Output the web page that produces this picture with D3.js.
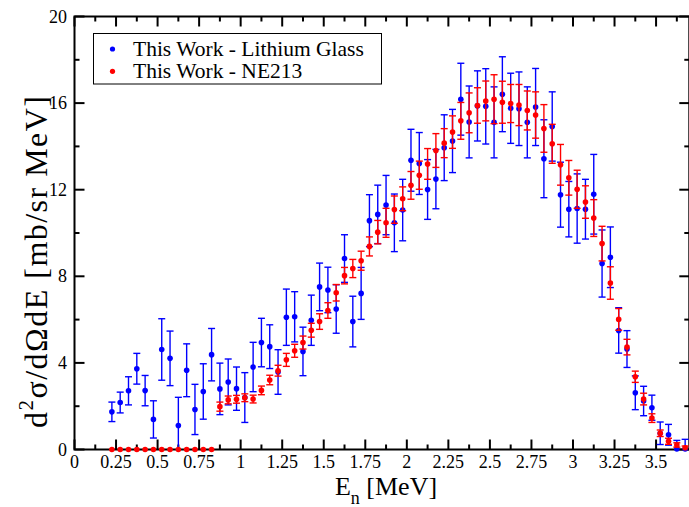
<!DOCTYPE html>
<html>
<head>
<meta charset="utf-8">
<script src="https://cdn.jsdelivr.net/npm/d3@7"></script>
<style>
  html, body { margin: 0; padding: 0; background: #fff; }
  svg { display: block; }
</style>
</head>
<body>
<svg id="chart" width="689" height="507" font-family="Liberation Serif"></svg>
<script>
// ---- data ----
const energies = [0.225,0.275,0.325,0.375,0.425,0.475,0.525,0.575,0.625,0.675,0.725,0.775,0.825,0.875,0.925,0.975,
  1.025,1.075,1.125,1.175,1.225,1.275,1.325,1.375,1.425,1.475,1.525,1.575,1.625,1.675,1.725,1.775,1.825,1.875,1.925,1.975,
  2.025,2.075,2.125,2.175,2.225,2.275,2.325,2.375,2.425,2.475,2.525,2.575,2.625,2.675,2.725,2.775,2.825,2.875,2.925,2.975,
  3.025,3.075,3.125,3.175,3.225,3.275,3.325,3.375,3.425,3.475,3.525,3.575,3.625,3.675];

const lithiumGlass = [1.74,2.17,2.71,3.73,2.72,1.39,4.62,4.21,1.11,3.66,1.85,2.68,4.38,2.80,3.12,2.81,
  2.40,3.81,4.94,4.75,3.58,6.11,6.13,4.53,5.97,7.51,7.37,6.49,8.82,5.91,7.21,10.57,10.86,11.29,10.47,11.06,
  13.36,13.21,12.01,12.49,13.94,14.25,16.18,15.13,15.87,15.85,15.11,16.41,15.76,15.74,15.11,15.82,13.43,14.92,11.77,11.10,
  11.13,11.10,11.79,8.59,8.88,5.50,4.64,2.62,2.24,1.93,0.75,0.68,0.02,0.02];
const lithiumGlassErr = [0.45,0.48,0.65,0.71,0.70,0.86,1.42,1.26,1.30,1.22,1.16,1.28,1.21,1.19,1.06,1.00,
  1.15,1.14,1.12,1.01,1.03,1.30,1.16,1.12,1.16,1.10,1.05,1.12,1.10,1.17,1.20,1.20,1.35,1.37,1.33,1.42,
  1.43,1.43,1.38,1.37,1.52,1.46,1.66,1.66,1.62,1.74,1.64,1.73,1.62,1.70,1.64,1.78,1.80,1.60,1.50,1.28,
  1.60,1.38,1.84,1.55,1.40,1.05,0.85,0.78,0.68,0.58,0.52,0.48,0.40,0.45];

const ne213 = [0,0,0,0,0,0,0,0,0,0,0,0,0,1.98,2.29,2.32,
  2.39,2.33,2.73,3.21,3.64,4.14,4.56,4.94,5.51,5.91,6.42,7.24,8.03,8.36,8.72,9.38,10.04,10.47,11.08,11.58,
  12.20,12.67,13.19,13.81,14.15,14.66,15.18,15.55,15.89,16.10,16.18,16.04,15.98,15.91,15.66,15.45,14.83,14.12,13.15,12.55,
  12.02,11.43,10.69,9.51,7.69,6.01,4.73,3.36,2.33,1.45,0.75,0.38,0.21,0.08];
const ne213Err = [0,0,0,0,0,0,0,0,0,0,0,0,0,0.21,0.18,0.18,
  0.18,0.18,0.20,0.22,0.25,0.30,0.30,0.30,0.32,0.36,0.36,0.38,0.38,0.42,0.44,0.44,0.54,0.67,0.63,0.55,
  0.64,0.65,0.71,0.78,0.67,0.75,0.85,0.92,0.82,0.92,1.13,0.97,0.88,0.95,0.90,1.07,1.10,0.90,0.94,0.80,
  0.88,0.75,0.85,0.80,0.75,0.50,0.36,0.26,0.27,0.20,0.15,0.14,0.10,0.08];

const xTicks = [0,0.25,0.5,0.75,1,1.25,1.5,1.75,2,2.25,2.5,2.75,3,3.25,3.5];
const xMinor = [0.125,0.375,0.625,0.875,1.125,1.375,1.625,1.875,2.125,2.375,2.625,2.875,3.125,3.375,3.625];
const yTicks = [0,4,8,12,16,20];
const yMinor = [2,6,10,14,18];
const seriesNames = ["This Work - Lithium Glass", "This Work - NE213"];
const seriesColors = ["#0000ff", "#ff0000"];

// ---- layout ----
const FONT = "Liberation Serif";
const svg = d3.select("#chart");
const pLeft = 74.5, pRight = 689.3, pTop = 16.5, pBottom = 449.5;
const x = d3.scaleLinear().domain([0, 3.7]).range([pLeft, pRight]);
const y = d3.scaleLinear().domain([0, 20]).range([pBottom, pTop]);

const series = [
  {vals: lithiumGlass, errs: lithiumGlassErr, color: seriesColors[0]},
  {vals: ne213, errs: ne213Err, color: seriesColors[1]}
];

// frame
svg.append("rect").attr("x", pLeft).attr("y", pTop).attr("width", pRight - pLeft).attr("height", pBottom - pTop)
  .attr("fill", "none").attr("stroke", "#000").attr("stroke-width", 2);

// ticks (inward on all sides)
const tk = svg.append("g").attr("stroke", "#000").attr("stroke-width", 2);
xTicks.forEach(t => {
  tk.append("line").attr("x1", x(t)).attr("x2", x(t)).attr("y1", pBottom).attr("y2", pBottom - 10);
  tk.append("line").attr("x1", x(t)).attr("x2", x(t)).attr("y1", pTop).attr("y2", pTop + 10);
});
xMinor.forEach(t => {
  tk.append("line").attr("x1", x(t)).attr("x2", x(t)).attr("y1", pBottom).attr("y2", pBottom - 5);
  tk.append("line").attr("x1", x(t)).attr("x2", x(t)).attr("y1", pTop).attr("y2", pTop + 5);
});
yTicks.forEach(t => {
  tk.append("line").attr("x1", pLeft).attr("x2", pLeft + 10).attr("y1", y(t)).attr("y2", y(t));
  tk.append("line").attr("x1", pRight).attr("x2", pRight - 10).attr("y1", y(t)).attr("y2", y(t));
});
yMinor.forEach(t => {
  tk.append("line").attr("x1", pLeft).attr("x2", pLeft + 5).attr("y1", y(t)).attr("y2", y(t));
  tk.append("line").attr("x1", pRight).attr("x2", pRight - 5).attr("y1", y(t)).attr("y2", y(t));
});

// data marks (blue first, red over), drawn over the frame
const cap = 3.5;
series.forEach(s => {
  const g = svg.append("g");
  const pts = energies.map((e, i) => ({e, v: s.vals[i], d: s.errs[i]}));
  const eb = g.append("g").attr("stroke", s.color).attr("stroke-width", 1.4).attr("fill", "none");
  pts.filter(p => p.d > 0).forEach(p => {
    const lo = Math.max(p.v - p.d, 0);
    const cx = x(p.e), y1 = y(p.v + p.d), y2 = y(lo);
    eb.append("line").attr("x1", cx).attr("x2", cx).attr("y1", y1).attr("y2", y2);
    eb.append("line").attr("x1", cx - cap).attr("x2", cx + cap).attr("y1", y1).attr("y2", y1);
    if (lo > 0) eb.append("line").attr("x1", cx - cap).attr("x2", cx + cap).attr("y1", y2).attr("y2", y2);
  });
  g.selectAll("circle").data(pts).join("circle")
    .attr("cx", p => x(p.e)).attr("cy", p => y(p.v)).attr("r", 2.8).attr("fill", s.color);
});

// tick labels
const fmt = d3.format("~g");
svg.append("g").selectAll("text").data(xTicks).join("text")
  .attr("font-family", FONT)
  .attr("x", d => x(d)).attr("y", 468).attr("text-anchor", "middle")
  .attr("font-size", 18).text(d => fmt(d));
svg.append("g").selectAll("text").data(yTicks).join("text")
  .attr("font-family", FONT)
  .attr("x", 67).attr("y", d => y(d) + 6).attr("text-anchor", "end")
  .attr("font-size", 18).text(d => fmt(d));

// axis titles
const xl = svg.append("text").attr("font-family", FONT).attr("x", 386).attr("y", 495)
  .attr("text-anchor", "middle").attr("font-size", 26);
xl.append("tspan").text("E");
xl.append("tspan").attr("font-size", 18).attr("dy", 9).text("n");
xl.append("tspan").attr("dy", -9).text(" [MeV]");

const yl = svg.append("text").attr("font-family", FONT).attr("transform", "translate(46.5,262) rotate(-90)")
  .attr("text-anchor", "middle").attr("font-size", 32)
  .attr("textLength", 332).attr("lengthAdjust", "spacing");
yl.append("tspan").text("d");
yl.append("tspan").attr("font-size", 21).attr("dy", -14).text("2");
yl.append("tspan").attr("dy", 14).text("σ/dΩdE [mb/sr MeV]");

// legend
const lg = svg.append("g");
lg.append("rect").attr("x", 93.5).attr("y", 33.5).attr("width", 288).attr("height", 50.5)
  .attr("fill", "#fff").attr("stroke", "#000").attr("stroke-width", 1);
seriesNames.forEach((n, i) => {
  lg.append("circle").attr("cx", 112.5).attr("cy", 49 + i * 22.3).attr("r", 2.6).attr("fill", seriesColors[i]);
  lg.append("text").attr("font-family", FONT).attr("x", 133).attr("y", 56 + i * 22.3)
    .attr("font-size", 21.5).text(n);
});
</script>
</body>
</html>
